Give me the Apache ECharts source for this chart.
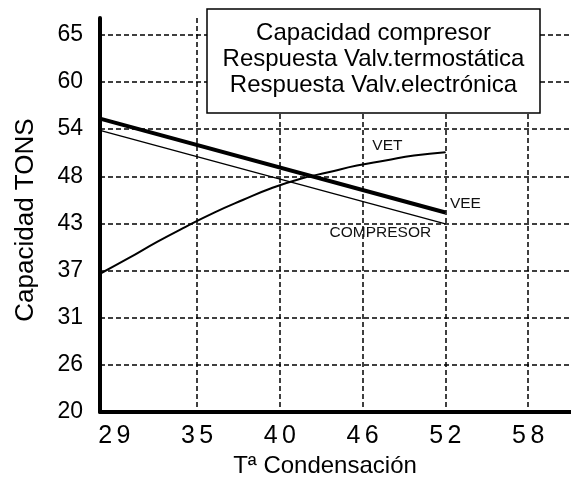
<!DOCTYPE html>
<html>
<head>
<meta charset="utf-8">
<script src="https://cdn.jsdelivr.net/npm/echarts@6/dist/echarts.min.js"></script>
<style>
html, body { margin: 0; padding: 0; background: #fff; }
#chart { width: 571px; height: 483px; }
</style>
</head>
<body>
<div id="chart"></div>
<script>
// textos de la leyenda (caja)
var legendLines = ['Capacidad compresor', 'Respuesta Valv.termostática', 'Respuesta Valv.electrónica']

// ejes
var xTickValues = [29, 34.8, 40.6, 46.4, 52.2, 58]
var xTickLabels = ['29', '35', '40', '46', '52', '58']
var yTickValues = [20, 25.625, 31.25, 36.875, 42.5, 48.125, 53.75, 59.375, 65]
var yTickLabels = ['20', '26', '31', '37', '43', '48', '54', '60', '65']

// series
var tempCompresor = [28, 52.2]
var capCompresor = [53.6, 42.45]
var tempVet = [28, 30, 32, 34, 36, 38, 40, 42, 44, 46, 48, 50, 52.2]
var capVet = [36.5, 38.35, 40.3, 42.1, 43.8, 45.3, 46.7, 47.8, 48.6, 49.4, 50.0, 50.6, 51.0]
var tempVee = [28, 52.2]
var capVee = [55.0, 43.8]

var FONT = '"Liberation Sans", Arial, sans-serif'

function tickLabel(values, labels, v) {
  for (var i = 0; i < values.length; i++) {
    if (Math.abs(values[i] - v) < 1e-6) return labels[i]
  }
  return ''
}

function buildData(xs, ys, tag, offset) {
  var out = []
  for (var i = 0; i < xs.length; i++) {
    if (i === xs.length - 1) {
      out.push({
        value: [xs[i], ys[i]],
        symbol: 'circle',
        symbolSize: 1,
        label: {
          show: true,
          formatter: tag,
          position: 'inside',
          offset: offset,
          color: '#111',
          fontSize: 15.5,
          fontFamily: FONT
        }
      })
    } else {
      out.push([xs[i], ys[i]])
    }
  }
  return out
}

var myChart = echarts.init(document.getElementById('chart'), null, { renderer: 'canvas' })

var option = {
  animation: false,
  backgroundColor: '#fff',
  grid: { left: 100, right: 0, top: 18, bottom: 67 },
  xAxis: {
    type: 'value',
    min: 28,
    max: 61,
    name: 'Tª Condensación',
    nameLocation: 'middle',
    nameGap: 37,
    nameTextStyle: { color: '#000', fontSize: 24, fontFamily: FONT, padding: [0, 21, 0, 0] },
    axisLine: { show: true, onZero: false, lineStyle: { color: '#000', width: 4 } },
    axisTick: { show: false, customValues: xTickValues.slice(1) },
    splitLine: { show: true, lineStyle: { color: '#000', width: 1.5, type: [5, 3] } },
    axisLabel: {
      customValues: xTickValues,
      margin: 12,
      formatter: function (v) {
        var s = tickLabel(xTickValues, xTickLabels, v)
        return s.split('').map(function (c) { return '{d|' + c + '}' }).join('')
      },
      rich: {
        d: { width: 18.3, align: 'center', fontSize: 25, fontFamily: FONT, color: '#000' }
      }
    }
  },
  yAxis: {
    type: 'value',
    min: 20,
    max: 67,
    name: 'Capacidad TONS',
    nameLocation: 'middle',
    nameGap: 61,
    nameTextStyle: { color: '#000', fontSize: 26, fontFamily: FONT, padding: [0, 10, 0, 0] },
    axisLine: { show: true, lineStyle: { color: '#000', width: 4 } },
    axisTick: { show: false, customValues: yTickValues },
    splitLine: { show: true, lineStyle: { color: '#000', width: 1.5, type: [5, 3] } },
    axisLabel: {
      customValues: yTickValues,
      margin: 17,
      color: '#000',
      fontSize: 23,
      fontFamily: FONT,
      formatter: function (v) { return tickLabel(yTickValues, yTickLabels, v) }
    }
  },
  graphic: [
    {
      type: 'rect',
      z: 100,
      shape: { x: 207, y: 9, width: 333, height: 104 },
      style: { fill: '#fff', stroke: '#000', lineWidth: 1.5 }
    },
    {
      type: 'text',
      z: 101,
      x: 373.5,
      y: 59,
      style: {
        text: legendLines.join('\n'),
        fill: '#000',
        font: '24px ' + FONT,
        lineHeight: 26,
        align: 'center',
        verticalAlign: 'middle'
      }
    }
  ],
  series: [
    {
      name: legendLines[0],
      type: 'line',
      symbol: 'none',
      data: buildData(tempCompresor, capCompresor, 'COMPRESOR', [-65, 9]),
      lineStyle: { color: '#000', width: 1.5 },
      itemStyle: { color: '#000' }
    },
    {
      name: legendLines[1],
      type: 'line',
      symbol: 'none',
      smooth: true,
      data: buildData(tempVet, capVet, 'VET', [-58, -6]),
      lineStyle: { color: '#000', width: 2 },
      itemStyle: { color: '#000' }
    },
    {
      name: legendLines[2],
      type: 'line',
      symbol: 'none',
      data: buildData(tempVee, capVee, 'VEE', [20, -9]),
      lineStyle: { color: '#000', width: 4 },
      itemStyle: { color: '#000' }
    }
  ]
}

option && myChart.setOption(option)
</script>
</body>
</html>
